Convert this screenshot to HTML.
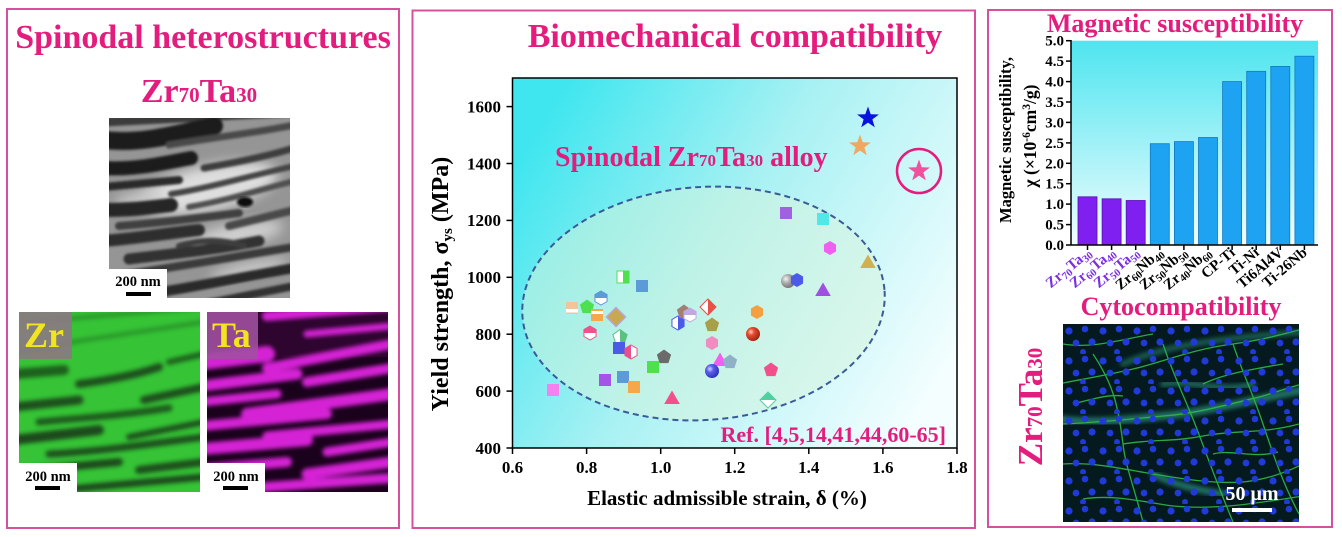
<!DOCTYPE html>
<html><head><meta charset="utf-8"><style>
html,body{margin:0;padding:0;background:#fff;}
svg{display:block;}
text{font-family:"Liberation Serif","DejaVu Serif",serif;font-weight:bold;}
</style></head><body>
<svg width="1342" height="537" viewBox="0 0 1342 537" xmlns="http://www.w3.org/2000/svg">
<defs>
<linearGradient id="plotbg" x1="0" y1="0.25" x2="1" y2="0.75">
<stop offset="0" stop-color="#3fe6ef"/><stop offset="0.45" stop-color="#a8f1f3"/><stop offset="1" stop-color="#f4feff"/>
</linearGradient>
<linearGradient id="barbg" x1="0" y1="0" x2="0" y2="1">
<stop offset="0" stop-color="#4ee5ef"/><stop offset="1" stop-color="#f0fdff"/>
</linearGradient>
<radialGradient id="sphB" cx=".35" cy=".35" r=".7"><stop offset="0" stop-color="#d8d8ff"/><stop offset=".35" stop-color="#5a60f0"/><stop offset="1" stop-color="#2a30b0"/></radialGradient>
<radialGradient id="sphR" cx=".35" cy=".35" r=".7"><stop offset="0" stop-color="#ffd0c0"/><stop offset=".35" stop-color="#e84a30"/><stop offset="1" stop-color="#a02010"/></radialGradient>
<radialGradient id="sphG" cx=".35" cy=".35" r=".7"><stop offset="0" stop-color="#f4f4f4"/><stop offset=".4" stop-color="#b0b0b0"/><stop offset="1" stop-color="#707070"/></radialGradient>
<filter id="b1" x="-10%" y="-10%" width="120%" height="120%"><feGaussianBlur stdDeviation="1.3"/></filter>
<filter id="b2" x="-10%" y="-10%" width="120%" height="120%"><feGaussianBlur stdDeviation="2"/></filter>
<filter id="b6" x="-30%" y="-30%" width="160%" height="160%"><feGaussianBlur stdDeviation="6"/></filter>
<clipPath id="cA"><rect width="181" height="180"/></clipPath>
<clipPath id="cF"><rect width="236" height="198"/></clipPath>
<pattern id="dots" width="34" height="30" patternUnits="userSpaceOnUse">
<circle cx="6" cy="7" r="3.6" fill="#1f3ad6"/><circle cx="22" cy="5" r="3.3" fill="#1f3ad6"/>
<circle cx="29" cy="18" r="3.6" fill="#1f3ad6"/><circle cx="13" cy="19" r="3.4" fill="#1f3ad6"/>
<circle cx="20" cy="28" r="3" fill="#1f3ad6"/>
</pattern>
<rect id="sq" x="-6" y="-6" width="12" height="12"/>
<rect id="sqR" x="0" y="-6" width="6" height="12"/>
<polygon id="hex" points="0,-7 6.06,-3.5 6.06,3.5 0,7 -6.06,3.5 -6.06,-3.5"/>
<polygon id="hexT" points="0,-7 6.06,-3.5 6.06,0 -6.06,0 -6.06,-3.5"/>
<polygon id="hexR" points="0,-7 6.06,-3.5 6.06,3.5 0,7"/>
<polygon id="hexL" points="0,-7 0,7 -6.06,3.5 -6.06,-3.5"/>
<polygon id="pent" points="0,-7.5 7.13,-2.32 4.41,6.07 -4.41,6.07 -7.13,-2.32"/>
<polygon id="pentR" points="0,-7.5 7.13,-2.32 4.41,6.07 0,6.07"/>
<polygon id="tri" points="0,-8.5 7.8,5 -7.8,5"/>
<polygon id="dia" points="0,-8 8,0 0,8 -8,0"/>
<polygon id="dia9" points="0,-9.5 9.5,0 0,9.5 -9.5,0"/>
<polygon id="diaR" points="0,-8 8,0 0,8"/>
<polygon id="diaT" points="-8,0 0,-8 8,0"/>
<polygon id="star" points="0,-11.5 2.70,-3.72 10.94,-3.55 4.37,1.42 6.76,9.30 0,4.6 -6.76,9.30 -4.37,1.42 -10.94,-3.55 -2.70,-3.72"/>
</defs>

<rect width="1342" height="537" fill="#fff"/>

<!-- Panel borders -->
<rect x="7" y="9" width="392" height="519" fill="none" stroke="#d8509c" stroke-width="2"/>
<rect x="412.5" y="10.5" width="562.5" height="517.5" fill="none" stroke="#d8509c" stroke-width="2"/>
<rect x="988" y="10" width="344" height="517" fill="none" stroke="#d8509c" stroke-width="2"/>

<!-- ============ LEFT PANEL ============ -->
<text x="203" y="48" font-size="34" fill="#e31c7e" text-anchor="middle">Spinodal heterostructures</text>
<text x="199" y="102" font-size="34" fill="#e31c7e" text-anchor="middle">Zr<tspan font-size="21">70</tspan>Ta<tspan font-size="21">30</tspan></text>

<!-- TEM image -->
<g transform="translate(109,118)"><g clip-path="url(#cA)">
<rect width="181" height="180" fill="#959595"/>
<ellipse cx="100" cy="70" rx="70" ry="22" transform="rotate(-12 100 70)" fill="#dedede" filter="url(#b6)"/>
<ellipse cx="125" cy="118" rx="50" ry="12" transform="rotate(-12 125 118)" fill="#cfcfcf" filter="url(#b6)"/>
<ellipse cx="140" cy="152" rx="40" ry="8" transform="rotate(-12 140 152)" fill="#c8c8c8" filter="url(#b6)"/>
<ellipse cx="30" cy="82" rx="25" ry="8" transform="rotate(-8 30 82)" fill="#c8c8c8" filter="url(#b6)"/>
<g fill="none" stroke-linecap="round" filter="url(#b1)">
<path d="M-5,4 L185,-6" stroke="#3a3a3a" stroke-width="9"/>
<path d="M-5,22 C30,26 60,18 105,8" stroke="#1e1e1e" stroke-width="18"/>
<path d="M60,27 C100,20 140,16 185,7" stroke="#4a4a4a" stroke-width="7"/>
<path d="M-5,50 C25,52 50,46 82,40" stroke="#1a1a1a" stroke-width="14"/>
<path d="M95,50 C130,44 160,38 185,30" stroke="#3d3d3d" stroke-width="7"/>
<path d="M-5,69 C25,66 50,64 70,62" stroke="#2a2a2a" stroke-width="8"/>
<path d="M62,76 C100,70 140,58 185,48" stroke="#444" stroke-width="6"/>
<path d="M-5,92 C25,92 45,89 62,87" stroke="#252525" stroke-width="14"/>
<path d="M80,89 C120,82 150,72 185,63" stroke="#505050" stroke-width="6"/>
<path d="M10,108 C50,105 90,100 130,95" stroke="#404040" stroke-width="8"/>
<path d="M-5,123 C30,120 60,115 90,112" stroke="#2e2e2e" stroke-width="12"/>
<path d="M120,108 L185,92" stroke="#4a4a4a" stroke-width="8"/>
<path d="M20,141 C60,136 100,133 150,123" stroke="#333" stroke-width="11"/>
<path d="M70,128 C95,120 115,122 135,128" stroke="#3c3c3c" stroke-width="6"/>
<path d="M-5,160 C60,150 120,140 185,129" stroke="#3a3a3a" stroke-width="8"/>
<path d="M40,176 C90,168 140,158 185,150" stroke="#2a2a2a" stroke-width="10"/>
<path d="M100,185 L185,168" stroke="#333" stroke-width="8"/>
</g>
<ellipse cx="136" cy="84" rx="8" ry="5" fill="#111" filter="url(#b1)"/>
</g></g>
<rect x="109" y="269" width="58" height="29" fill="#fff"/>
<text x="138" y="286" font-size="14.5" text-anchor="middle" fill="#000">200 nm</text>
<rect x="126" y="292" width="25" height="4" fill="#000"/>

<!-- Zr map -->
<g transform="translate(19,312)"><g clip-path="url(#cA)">
<rect width="181" height="180" fill="#36c436"/>
<g fill="none" stroke-linecap="round" filter="url(#b2)">
<path d="M10,10 L185,-5" stroke="#2c9a2c" stroke-width="5"/>
<path d="M40,32 L185,10" stroke="#2a9a2a" stroke-width="5"/>
<path d="M-5,40 L40,34" stroke="#2a8a2a" stroke-width="6"/>
<path d="M-5,62 L45,58" stroke="#1f601f" stroke-width="10"/>
<path d="M60,72 C90,68 120,62 140,55" stroke="#1c501c" stroke-width="8"/>
<path d="M150,50 L185,42" stroke="#1f601f" stroke-width="6"/>
<path d="M-5,95 L60,88" stroke="#1c501c" stroke-width="9"/>
<path d="M125,88 L185,75" stroke="#1c501c" stroke-width="8"/>
<path d="M20,110 C60,106 100,104 150,96" stroke="#1f5a1f" stroke-width="7"/>
<path d="M-5,128 L80,118" stroke="#1a4a1a" stroke-width="10"/>
<path d="M110,125 L185,110" stroke="#1c501c" stroke-width="6"/>
<path d="M30,142 C70,140 110,135 185,125" stroke="#1c501c" stroke-width="7"/>
<path d="M-5,160 L100,150" stroke="#1a4a1a" stroke-width="8"/>
<path d="M120,158 L185,150" stroke="#1c501c" stroke-width="8"/>
<path d="M40,178 L185,165" stroke="#1a4a1a" stroke-width="7"/>
</g>
</g></g>
<rect x="19" y="312" width="53" height="47" fill="#8a7a82" opacity="0.92"/>
<text x="24" y="347" font-size="36" fill="#f2e41e">Zr</text>
<rect x="19" y="463" width="58" height="29" fill="#fff"/>
<text x="48" y="481" font-size="14.5" text-anchor="middle" fill="#000">200 nm</text>
<rect x="35" y="486" width="25" height="4" fill="#000"/>

<!-- Ta map -->
<g transform="translate(207,312)"><g clip-path="url(#cA)">
<rect width="181" height="180" fill="#1a021c"/>
<rect width="181" height="45" fill="#3a083a" opacity="0.6"/>
<g fill="none" stroke="#d524d5" stroke-linecap="round" filter="url(#b2)">
<path d="M60,4 L185,-6" stroke-width="10"/>
<path d="M100,22 L185,14" stroke-width="7"/>
<path d="M-5,50 L60,42" stroke-width="16"/>
<path d="M60,56 L185,32" stroke-width="10"/>
<path d="M-5,74 L90,62" stroke-width="11"/>
<path d="M100,70 L185,56" stroke-width="10"/>
<path d="M-5,90 L70,82" stroke-width="9"/>
<path d="M40,102 L185,82" stroke-width="12"/>
<path d="M-5,114 L120,102" stroke-width="10"/>
<path d="M60,124 L185,112" stroke-width="9"/>
<path d="M-5,137 L100,128" stroke-width="12"/>
<path d="M120,140 L185,130" stroke-width="9"/>
<path d="M-5,157 L80,150" stroke-width="10"/>
<path d="M100,162 L185,150" stroke-width="11"/>
<path d="M30,177 L185,166" stroke-width="10"/>
</g>
</g></g>
<rect x="207" y="312" width="51" height="47" fill="#a050a0" opacity="0.9"/>
<text x="212" y="347" font-size="36" fill="#f2e41e">Ta</text>
<rect x="207" y="463" width="58" height="29" fill="#fff"/>
<text x="236" y="481" font-size="14.5" text-anchor="middle" fill="#000">200 nm</text>
<rect x="223" y="486" width="25" height="4" fill="#000"/>

<!-- ============ MIDDLE PANEL ============ -->
<text x="735" y="47" font-size="34" fill="#e31c7e" text-anchor="middle">Biomechanical compatibility</text>

<rect x="512.5" y="78" width="444.5" height="370" fill="url(#plotbg)"/>
<ellipse cx="703.5" cy="303.5" rx="181.5" ry="116.5" transform="rotate(-4 703.5 303.5)" fill="#d8f3dc" fill-opacity="0.5" stroke="#3a5a98" stroke-width="2" stroke-dasharray="6,4"/>

<!-- markers -->
<g stroke-width="1">
<use href="#sq" x="623" y="277" fill="#fff" stroke="#4fe04f"/><use href="#sqR" x="623" y="277" fill="#4fe04f"/>
<use href="#sq" x="642" y="286" fill="#5b9bd8"/>
<use href="#hex" x="601" y="298" fill="#fff" stroke="#5b9bd8"/><use href="#hexT" x="601" y="298" fill="#5b9bd8"/>
<use href="#sq" x="572" y="308" fill="#f2c49a"/><rect x="566" y="309" width="12" height="3.5" fill="#fff"/>
<use href="#pent" x="587" y="307" fill="#4fe04f"/>
<use href="#sq" x="597" y="315" fill="#f5a84a"/><rect x="591" y="311" width="12" height="3" fill="#fff"/>
<use href="#dia9" x="616" y="317" fill="#c8a850" stroke="#b8a4dc" stroke-width="1.5"/>
<use href="#hex" x="590" y="333" fill="#fff" stroke="#f0508c"/><use href="#hexT" x="590" y="333" fill="#f0508c"/>
<use href="#pent" x="620" y="337" fill="#fff" stroke="#5cc080"/><use href="#pentR" x="620" y="337" fill="#5cc080"/>
<use href="#sq" x="619" y="348" fill="#4c5ae8"/>
<use href="#hex" x="631" y="352" fill="#fff" stroke="#e8508c"/><use href="#hexL" x="631" y="352" fill="#e8508c"/>
<use href="#pent" x="664" y="357" fill="#6b6b6b"/>
<use href="#sq" x="653" y="367" fill="#4fe04f"/>
<use href="#sq" x="605" y="380" fill="#a455e8"/>
<use href="#sq" x="623" y="377" fill="#5b9bd8"/>
<use href="#sq" x="634" y="387" fill="#f5a84a"/>
<use href="#sq" x="553" y="390" fill="#f580f0"/>
<use href="#tri" x="672" y="399" fill="#f0508c"/>
<use href="#hex" x="678" y="323" fill="#fff" stroke="#4c5ae8"/><use href="#hexR" x="678" y="323" fill="#4c5ae8"/>
<use href="#pent" x="684" y="312" fill="#a08070"/>
<use href="#hex" x="690" y="315" fill="#fff" stroke="#c0a8e0"/><use href="#hexT" x="690" y="315" fill="#c0a8e0"/>
<use href="#dia" x="708" y="307" fill="#fff" stroke="#e85048"/><use href="#diaR" x="708" y="307" fill="#e85048"/>
<use href="#pent" x="712" y="325" fill="#a8a048"/>
<use href="#hex" x="712" y="343" fill="#f08cc0"/>
<use href="#tri" x="720" y="361" fill="#f060f0"/>
<use href="#pent" x="730" y="362" fill="#90b0c8"/>
<circle cx="712" cy="371" r="7" fill="url(#sphB)"/>
<use href="#sq" x="786" y="213" fill="#a060e0"/>
<use href="#sq" x="823" y="219" fill="#52e8e8"/>
<use href="#hex" x="830" y="248" fill="#f060f0"/>
<use href="#tri" x="868" y="263" fill="#d0b050"/>
<circle cx="788" cy="281" r="7" fill="url(#sphG)"/>
<use href="#hex" x="797" y="280" fill="#4c5ae8"/>
<use href="#tri" x="823" y="291" fill="#a050e0"/>
<use href="#hex" x="757" y="312" fill="#f5a040"/>
<circle cx="753" cy="334" r="7" fill="url(#sphR)"/>
<use href="#pent" x="771" y="370" fill="#f0508c"/>
<use href="#dia" x="768" y="400" fill="#fff" stroke="#50d0a0"/><use href="#diaT" x="768" y="400" fill="#50d0a0"/>
</g>

<!-- stars -->
<use href="#star" x="868" y="118" fill="#0a12e0"/>
<use href="#star" x="860" y="146" fill="#f0a860"/>
<circle cx="919" cy="171" r="22" fill="none" stroke="#e31c7e" stroke-width="2.5"/>
<use href="#star" x="919" y="171" fill="#f0509e"/>

<text x="555" y="166" font-size="28" fill="#e31c7e">Spinodal Zr<tspan font-size="17">70</tspan>Ta<tspan font-size="17">30</tspan> alloy</text>
<text x="946" y="442" font-size="22" fill="#e31c7e" text-anchor="end">Ref. [4,5,14,41,44,60-65]</text>

<!-- axes -->
<rect x="512.5" y="78" width="444.5" height="370" fill="none" stroke="#000" stroke-width="1.5"/>
<g stroke="#000" stroke-width="1.5">
<line x1="506.5" y1="448" x2="512.5" y2="448"/>
<line x1="506.5" y1="391.1" x2="512.5" y2="391.1"/>
<line x1="506.5" y1="334.2" x2="512.5" y2="334.2"/>
<line x1="506.5" y1="277.3" x2="512.5" y2="277.3"/>
<line x1="506.5" y1="220.4" x2="512.5" y2="220.4"/>
<line x1="506.5" y1="163.5" x2="512.5" y2="163.5"/>
<line x1="506.5" y1="106.6" x2="512.5" y2="106.6"/>
<line x1="512.5" y1="448" x2="512.5" y2="454"/>
<line x1="586.6" y1="448" x2="586.6" y2="454"/>
<line x1="660.7" y1="448" x2="660.7" y2="454"/>
<line x1="734.7" y1="448" x2="734.7" y2="454"/>
<line x1="808.8" y1="448" x2="808.8" y2="454"/>
<line x1="882.9" y1="448" x2="882.9" y2="454"/>
<line x1="957" y1="448" x2="957" y2="454"/>
</g>
<g font-size="17" fill="#000" text-anchor="end">
<text x="501" y="454">400</text>
<text x="501" y="397">600</text>
<text x="501" y="340">800</text>
<text x="501" y="283">1000</text>
<text x="501" y="226">1200</text>
<text x="501" y="169.5">1400</text>
<text x="501" y="112.6">1600</text>
</g>
<g font-size="17" fill="#000" text-anchor="middle">
<text x="512.5" y="473">0.6</text>
<text x="586.6" y="473">0.8</text>
<text x="660.7" y="473">1.0</text>
<text x="734.7" y="473">1.2</text>
<text x="808.8" y="473">1.4</text>
<text x="882.9" y="473">1.6</text>
<text x="957" y="473">1.8</text>
</g>
<text x="727" y="505" font-size="21" fill="#000" text-anchor="middle">Elastic admissible strain, δ (%)</text>
<text transform="translate(448,284) rotate(-90)" font-size="24" fill="#000" text-anchor="middle">Yield strength,  σ<tspan font-size="15" dy="4">ys</tspan><tspan dy="-4"> (MPa)</tspan></text>

<!-- ============ RIGHT PANEL ============ -->
<text x="1175" y="32" font-size="26" fill="#e31c7e" text-anchor="middle">Magnetic susceptibility</text>

<rect x="1071" y="40.7" width="247" height="204.3" fill="url(#barbg)"/>
<g stroke-width="0.8">
<rect x="1078" y="196.8" width="19" height="48.2" fill="#7f1ff0" stroke="#5a10b0"/>
<rect x="1102.1" y="198.8" width="19" height="46.2" fill="#7f1ff0" stroke="#5a10b0"/>
<rect x="1126.2" y="200.5" width="19" height="44.5" fill="#7f1ff0" stroke="#5a10b0"/>
<rect x="1150.3" y="143.7" width="19" height="101.3" fill="#1ea2f2" stroke="#1278c0"/>
<rect x="1174.4" y="141.6" width="19" height="103.4" fill="#1ea2f2" stroke="#1278c0"/>
<rect x="1198.5" y="137.5" width="19" height="107.5" fill="#1ea2f2" stroke="#1278c0"/>
<rect x="1222.6" y="81.6" width="19" height="163.4" fill="#1ea2f2" stroke="#1278c0"/>
<rect x="1246.7" y="71.3" width="19" height="173.7" fill="#1ea2f2" stroke="#1278c0"/>
<rect x="1270.8" y="66.4" width="19" height="178.6" fill="#1ea2f2" stroke="#1278c0"/>
<rect x="1294.9" y="56.2" width="19" height="188.8" fill="#1ea2f2" stroke="#1278c0"/>
</g>
<g stroke="#000" stroke-width="1.5">
<line x1="1071" y1="40" x2="1071" y2="245"/>
<line x1="1071" y1="245" x2="1318" y2="245"/>
<line x1="1066" y1="245" x2="1071" y2="245"/>
<line x1="1066" y1="224.6" x2="1071" y2="224.6"/>
<line x1="1066" y1="204.1" x2="1071" y2="204.1"/>
<line x1="1066" y1="183.7" x2="1071" y2="183.7"/>
<line x1="1066" y1="163.3" x2="1071" y2="163.3"/>
<line x1="1066" y1="142.9" x2="1071" y2="142.9"/>
<line x1="1066" y1="122.4" x2="1071" y2="122.4"/>
<line x1="1066" y1="102" x2="1071" y2="102"/>
<line x1="1066" y1="81.6" x2="1071" y2="81.6"/>
<line x1="1066" y1="61.1" x2="1071" y2="61.1"/>
<line x1="1066" y1="40.7" x2="1071" y2="40.7"/>
<line x1="1087.5" y1="245" x2="1087.5" y2="250"/>
<line x1="1111.6" y1="245" x2="1111.6" y2="250"/>
<line x1="1135.7" y1="245" x2="1135.7" y2="250"/>
<line x1="1159.8" y1="245" x2="1159.8" y2="250"/>
<line x1="1183.9" y1="245" x2="1183.9" y2="250"/>
<line x1="1208" y1="245" x2="1208" y2="250"/>
<line x1="1232.1" y1="245" x2="1232.1" y2="250"/>
<line x1="1256.2" y1="245" x2="1256.2" y2="250"/>
<line x1="1280.3" y1="245" x2="1280.3" y2="250"/>
<line x1="1304.4" y1="245" x2="1304.4" y2="250"/>
</g>
<g font-size="15" fill="#000" text-anchor="end">
<text x="1064" y="250">0.0</text>
<text x="1064" y="229.6">0.5</text>
<text x="1064" y="209.1">1.0</text>
<text x="1064" y="188.7">1.5</text>
<text x="1064" y="168.3">2.0</text>
<text x="1064" y="147.9">2.5</text>
<text x="1064" y="127.4">3.0</text>
<text x="1064" y="107">3.5</text>
<text x="1064" y="86.6">4.0</text>
<text x="1064" y="66.1">4.5</text>
<text x="1064" y="45.7">5.0</text>
</g>
<text transform="translate(1011,140) rotate(-90)" font-size="16.5" fill="#000" text-anchor="middle">Magnetic susceptibility,</text>
<text transform="translate(1036,136) rotate(-90)" font-size="17.5" fill="#000" text-anchor="middle">χ (×10<tspan font-size="11.5" dy="-6">-6</tspan><tspan dy="6">cm</tspan><tspan font-size="11.5" dy="-6">3</tspan><tspan dy="6">/g)</tspan></text>

<g font-size="15" text-anchor="end">
<text transform="translate(1092,254) rotate(-40)" fill="#7a2ee6">Zr<tspan font-size="10.5" dy="3">70</tspan><tspan dy="-3">Ta</tspan><tspan font-size="10.5" dy="3">30</tspan></text>
<text transform="translate(1116,254) rotate(-40)" fill="#7a2ee6">Zr<tspan font-size="10.5" dy="3">60</tspan><tspan dy="-3">Ta</tspan><tspan font-size="10.5" dy="3">40</tspan></text>
<text transform="translate(1140,254) rotate(-40)" fill="#7a2ee6">Zr<tspan font-size="10.5" dy="3">50</tspan><tspan dy="-3">Ta</tspan><tspan font-size="10.5" dy="3">50</tspan></text>
<text transform="translate(1164,254) rotate(-40)" fill="#000">Zr<tspan font-size="10.5" dy="3">60</tspan><tspan dy="-3">Nb</tspan><tspan font-size="10.5" dy="3">40</tspan></text>
<text transform="translate(1188,254) rotate(-40)" fill="#000">Zr<tspan font-size="10.5" dy="3">50</tspan><tspan dy="-3">Nb</tspan><tspan font-size="10.5" dy="3">50</tspan></text>
<text transform="translate(1212,254) rotate(-40)" fill="#000">Zr<tspan font-size="10.5" dy="3">40</tspan><tspan dy="-3">Nb</tspan><tspan font-size="10.5" dy="3">60</tspan></text>
<text transform="translate(1236,254) rotate(-40)" fill="#000">CP-Ti</text>
<text transform="translate(1260,254) rotate(-40)" fill="#000">Ti-Ni</text>
<text transform="translate(1284,254) rotate(-40)" fill="#000">Ti6Al4V</text>
<text transform="translate(1308,254) rotate(-40)" fill="#000">Ti-26Nb</text>
</g>

<text x="1181" y="315" font-size="26" fill="#e31c7e" text-anchor="middle">Cytocompatibility</text>
<text transform="translate(1042,407) rotate(-90)" font-size="35" fill="#e31c7e" text-anchor="middle">Zr<tspan font-size="21">70</tspan>Ta<tspan font-size="21">30</tspan></text>

<!-- fluorescence image -->
<g transform="translate(1063,324)"><g clip-path="url(#cF)">
<rect width="236" height="198" fill="#051a1e"/>
<g fill="none" stroke-linecap="round">
<path d="M-5,95 C30,100 60,96 100,92 C140,88 170,80 240,66" stroke="#40d0b0" stroke-width="8" opacity="0.45" filter="url(#b2)"/>
<path d="M60,40 C100,22 150,15 240,8" stroke="#38b890" stroke-width="6" opacity="0.4" filter="url(#b2)"/>
<path d="M90,150 C110,160 130,165 160,170" stroke="#40d0b0" stroke-width="7" opacity="0.45" filter="url(#b2)"/>
<path d="M100,60 C130,55 160,70 190,60" stroke="#40d0b0" stroke-width="6" opacity="0.4" filter="url(#b2)"/>
</g>
<g fill="none" stroke="#2fb84a" stroke-width="1.3" opacity="0.9">
<path d="M-5,60 C20,55 40,52 70,45 C100,38 130,25 170,20 C200,16 220,10 240,5"/>
<path d="M0,100 C40,98 70,95 100,92 C130,90 160,82 200,72 C220,66 230,62 240,60"/>
<path d="M30,30 C50,60 55,80 60,120 C62,140 70,160 80,198"/>
<path d="M100,20 C110,50 120,70 130,95 C140,120 150,150 170,198"/>
<path d="M170,20 C180,50 190,70 200,100 C210,130 220,160 236,190"/>
<path d="M0,140 C30,138 60,145 90,150 C120,155 150,160 180,158 C200,156 220,150 240,140"/>
<path d="M20,175 C50,170 80,178 110,182 C150,186 190,180 240,172"/>
<path d="M60,120 C90,115 110,118 140,112 C170,106 200,110 236,100"/>
<path d="M0,20 C30,25 60,15 90,10"/>
<path d="M140,60 C160,50 190,45 220,40"/>
<path d="M10,80 C30,75 45,70 60,72"/>
<path d="M150,130 C170,125 190,135 215,128"/>
</g>
<rect width="236" height="198" fill="url(#dots)"/>
</g></g>
<text x="1252" y="500" font-size="20" fill="#fff" text-anchor="middle">50 μm</text>
<rect x="1232" y="508" width="40" height="4" fill="#fff"/>

</svg>
</body></html>
